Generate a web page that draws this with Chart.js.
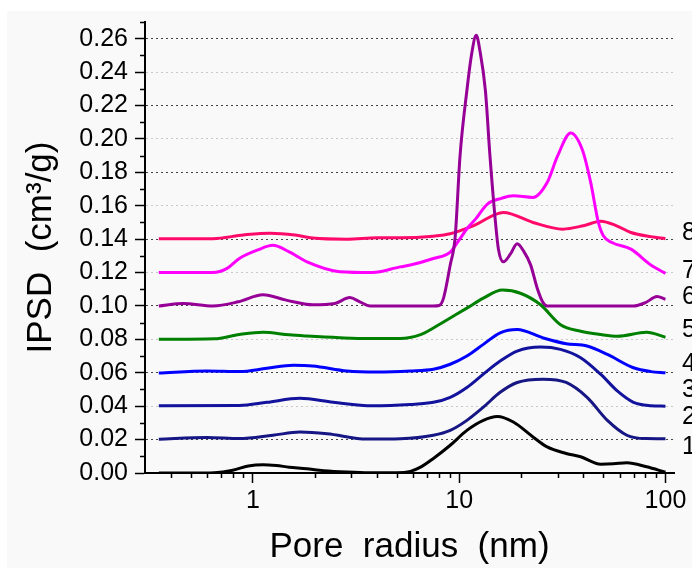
<!DOCTYPE html>
<html lang="en">
<head>
  <meta charset="UTF-8" />
  <title>IPSD vs pore radius</title>
  <script src="https://cdn.jsdelivr.net/npm/chart.js"></script>
  <style>
    html, body { margin: 0; padding: 0; background: #fff; }
    canvas { display: block; }
  </style>
</head>
<body>
  <canvas id="psd" width="692" height="568"></canvas>

  <script>
    // pore radius (nm) and IPSD (cm3/g)
    const r1 = [0.35, 0.5, 0.65, 0.8, 0.95, 1.12, 1.3, 1.5, 1.83, 2.1, 2.64, 3.5, 5, 5.8, 6.5, 7.5, 9.05, 10.9, 13.1, 15.3, 18.3, 22.8, 26.7, 33, 38.8, 48.6, 56, 65, 81, 100];
    const v1 = [0, 0, 0.0002, 0.0017, 0.0042, 0.005, 0.0045, 0.0035, 0.0026, 0.0016, 0.0007, 0.0002, 0.0002, 0.001, 0.0035, 0.0087, 0.0166, 0.0255, 0.0315, 0.0338, 0.0305, 0.0216, 0.0156, 0.0117, 0.0097, 0.0053, 0.0055, 0.0061, 0.0037, 0.0005];

    const r2 = [0.35, 0.6, 0.86, 1.25, 1.69, 2.29, 3.57, 5.2, 7.5, 9.05, 10.9, 13.1, 15.8, 19.1, 25.5, 33, 41.7, 52.3, 65, 80, 100];
    const v2 = [0.0202, 0.0212, 0.0206, 0.0226, 0.0245, 0.0235, 0.0203, 0.0205, 0.0226, 0.0255, 0.0315, 0.0394, 0.0483, 0.0542, 0.0562, 0.0542, 0.0453, 0.0315, 0.0226, 0.0206, 0.0205];

    const r3 = [0.35, 0.86, 1.17, 1.69, 2.45, 3.8, 5.8, 7.5, 9.05, 10.9, 13.1, 15.8, 19.1, 24.8, 31, 38.8, 48.6, 58.6, 70, 85, 100];
    const v3 = [0.0403, 0.0404, 0.0423, 0.0447, 0.0423, 0.0402, 0.041, 0.0423, 0.0453, 0.0512, 0.0592, 0.067, 0.073, 0.0754, 0.074, 0.069, 0.059, 0.049, 0.0423, 0.0403, 0.040];

    const r4 = [0.35, 0.6, 0.86, 1.17, 1.57, 1.95, 2.86, 4, 5.8, 7.5, 9.05, 10.9, 13.1, 15.8, 19.1, 25.5, 33, 41.7, 52.3, 70, 85, 100];
    const v4 = [0.0598, 0.0611, 0.0607, 0.0627, 0.0645, 0.0641, 0.0611, 0.0605, 0.0611, 0.0621, 0.0651, 0.070, 0.077, 0.0839, 0.0859, 0.0809, 0.0774, 0.076, 0.071, 0.063, 0.0607, 0.060];

    const r5 = [0.35, 0.65, 0.86, 1.12, 1.5, 1.83, 2.64, 3.6, 5.17, 6.5, 7.5, 9.05, 10.9, 13.1, 16.2, 19.8, 24.8, 31, 38.8, 48.6, 58.6, 81, 100];
    const v5 = [0.080, 0.0803, 0.0829, 0.0843, 0.0827, 0.082, 0.081, 0.0805, 0.0805, 0.0828, 0.0868, 0.0928, 0.0987, 0.1047, 0.1095, 0.1076, 0.1007, 0.0888, 0.0849, 0.0829, 0.0819, 0.0843, 0.0813];

    const r6 = [0.35, 0.46, 0.64, 0.85, 1.12, 1.45, 1.95, 2.5, 2.95, 3.3, 3.7, 5, 7.5, 8.0, 8.4, 9.05, 9.56, 10.1, 10.9, 11.5, 12.1, 12.6, 13.4, 14.1, 15.0, 15.5, 16.4, 17.7, 19.1, 20.5, 22.2, 23.9, 25.5, 26.7, 40, 70, 80, 91, 100];
    const v6 = [0.100, 0.1015, 0.100, 0.1025, 0.1067, 0.1035, 0.1007, 0.1015, 0.105, 0.1025, 0.100, 0.100, 0.100, 0.1003, 0.1047, 0.1245, 0.141, 0.19, 0.229, 0.251, 0.262, 0.253, 0.229, 0.19, 0.150, 0.134, 0.1264, 0.131, 0.1373, 0.133, 0.1246, 0.1106, 0.102, 0.100, 0.100, 0.100, 0.102, 0.1056, 0.104];

    const r7 = [0.35, 0.64, 0.75, 0.86, 1.05, 1.25, 1.5, 1.83, 2.64, 3.8, 5.17, 5.8, 7.5, 9.05, 10.1, 10.9, 12, 13.7, 16, 18.3, 22.8, 26.7, 30, 34.7, 39.5, 43.4, 47.3, 50, 55, 68, 85, 100];
    const v7 = [0.120, 0.120, 0.1225, 0.1284, 0.1334, 0.1363, 0.1324, 0.1264, 0.1205, 0.120, 0.1234, 0.1245, 0.1284, 0.1323, 0.1403, 0.1462, 0.152, 0.161, 0.1644, 0.166, 0.165, 0.1739, 0.1898, 0.2036, 0.1937, 0.174, 0.150, 0.142, 0.138, 0.134, 0.1245, 0.1195];

    const r8 = [0.35, 0.64, 0.9, 1.21, 1.6, 1.95, 2.86, 4, 5.17, 7.5, 9.05, 11.7, 16.4, 22.8, 31.8, 40, 48.6, 58, 68, 85, 100];
    const v8 = [0.1403, 0.1403, 0.1425, 0.1436, 0.1425, 0.1407, 0.140, 0.1408, 0.1408, 0.1418, 0.1432, 0.148, 0.156, 0.150, 0.146, 0.148, 0.1507, 0.148, 0.144, 0.1415, 0.1403];

    const curveX = [r1, r2, r3, r4, r5, r6, r7, r8];
    const curveY = [v1, v2, v3, v4, v5, v6, v7, v8];
    const curveColors = ['#000000', '#161684', '#12129c', '#0000ff', '#008000', '#960096', '#ff00ff', '#ff0a6a'];

    // curve numbers at the right edge and their heights
    const curveNames = ['1', '2', '3', '4', '5', '6', '7', '8'];
    const namePos = [0.0154, 0.0332, 0.0499, 0.0653, 0.0855, 0.1051, 0.1211, 0.1437];

    // unlabelled short ticks
    const minorX = [0.4, 0.5, 0.6, 0.7, 0.8, 0.9, 2, 3, 4, 5, 6, 7, 8, 9, 20, 30, 40, 50, 60, 70, 80, 90];
    const minorY = [0.01, 0.03, 0.05, 0.07, 0.09, 0.11, 0.13, 0.15, 0.17, 0.19, 0.21, 0.23, 0.25, 0.27];

    const FONT = "'Liberation Sans', Arial, sans-serif";

    const isDecade = v => Math.abs(Math.log10(v) - Math.round(Math.log10(v))) < 1e-9;

    const extras = {
      id: 'extras',
      beforeDraw(chart) {
        const c = chart.ctx;
        c.save();
        c.fillStyle = '#ffffff';
        c.fillRect(0, 0, chart.width, chart.height);
        c.fillStyle = '#f9f9f9';
        c.fillRect(7, 11, chart.width, chart.height);
        c.restore();
      },
      afterDraw(chart) {
        const c = chart.ctx;
        const xs = chart.scales.x, ys = chart.scales.y;
        const area = chart.chartArea;
        c.save();
        c.strokeStyle = '#000';
        c.lineWidth = 1.5;
        c.beginPath();
        minorX.forEach(v => {
          const px = Math.round(xs.getPixelForValue(v)) + 0.5;
          c.moveTo(px, area.bottom);
          c.lineTo(px, area.bottom + 5);
        });
        minorY.forEach(v => {
          const py = Math.round(ys.getPixelForValue(v)) + 0.5;
          c.moveTo(area.left - 5, py);
          c.lineTo(area.left, py);
        });
        c.stroke();

        c.fillStyle = '#000';
        c.font = '25px ' + FONT;
        c.textAlign = 'left';
        c.textBaseline = 'middle';
        curveNames.forEach((t, i) => {
          c.fillText(t, area.right + 8, ys.getPixelForValue(namePos[i]));
        });
        c.restore();
      }
    };

    new Chart(document.getElementById('psd'), {
      type: 'line',
      data: {
        datasets: curveX.map((xs, i) => ({
          label: curveNames[i],
          data: xs.map((x, j) => ({ x: x, y: curveY[i][j] })),
          borderColor: curveColors[i],
          borderWidth: 3,
          pointRadius: 0,
          fill: false,
          cubicInterpolationMode: 'monotone'
        }))
      },
      options: {
        responsive: false,
        animation: false,
        devicePixelRatio: 1,
        layout: { padding: { left: 0, right: 18, top: 18, bottom: 0 } },
        plugins: {
          legend: { display: false },
          tooltip: { enabled: false }
        },
        scales: {
          x: {
            type: 'logarithmic',
            min: 0.3,
            max: 110,
            ticks: {
              autoSkip: false,
              maxRotation: 0,
              padding: 3,
              color: '#000',
              font: { family: FONT, size: 25 },
              callback: v => (isDecade(v) && v >= 1) ? String(Math.round(v)) : ''
            },
            grid: {
              drawOnChartArea: false,
              tickLength: 10,
              tickWidth: 1.5,
              tickColor: c => (c.tick && isDecade(c.tick.value) && c.tick.value >= 1) ? '#000' : 'rgba(0,0,0,0)'
            },
            border: { color: '#000', width: 2 },
            title: {
              display: true,
              text: 'Pore  radius  (nm)',
              color: '#000',
              font: { family: FONT, size: 35 },
              padding: { top: 0, bottom: 0 }
            },
            afterFit: s => { s.height = 95; }
          },
          y: {
            min: 0,
            max: 0.27,
            ticks: {
              stepSize: 0.02,
              includeBounds: false,
              padding: 7,
              color: '#000',
              font: { family: FONT, size: 25 },
              callback: v => v.toFixed(2)
            },
            grid: {
              lineWidth: 1,
              tickLength: 10,
              tickWidth: 1.5,
              tickColor: '#000',
              color: c => {
                if (!c.tick) return 'rgba(0,0,0,0)';
                const k = Math.round(c.tick.value * 100);
                return (k % 4 === 2) ? '#444444' : '#c8c8c8';
              }
            },
            border: { color: '#000', width: 2, dash: [2, 3] },
            title: {
              display: true,
              text: 'IPSD  (cm³/g)',
              color: '#000',
              font: { family: FONT, size: 35 },
              padding: { top: 20, bottom: 0 }
            },
            afterFit: s => { s.width = 145; }
          }
        }
      },
      plugins: [extras]
    });
  </script>
</body>
</html>
